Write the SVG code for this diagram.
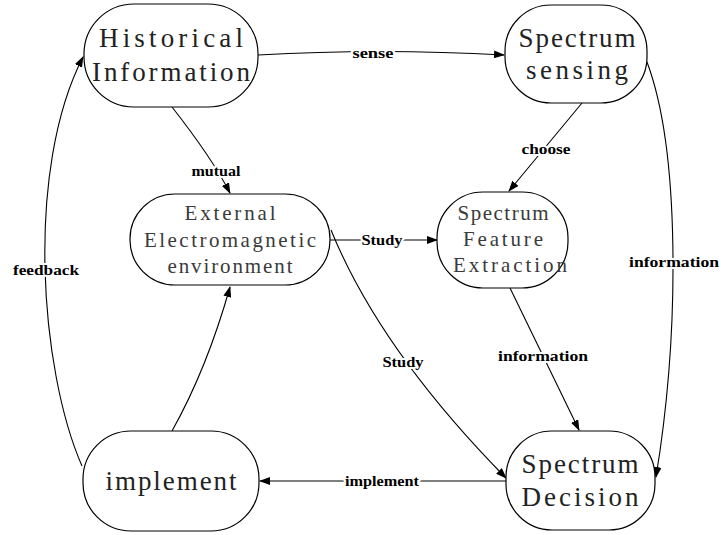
<svg xmlns="http://www.w3.org/2000/svg" width="721" height="535" viewBox="0 0 721 535">
<style>
.node rect{fill:#fff;stroke:#000;stroke-width:1.2}
.big{font-family:"Liberation Serif","DejaVu Serif",serif;font-size:27px;fill:#222;text-anchor:middle}
.mid{font-family:"Liberation Serif","DejaVu Serif",serif;font-size:21px;fill:#3a3a3a;text-anchor:middle}
#edges path{fill:none;stroke:#000;stroke-width:1.1}
.lbl{font-family:"Liberation Serif","DejaVu Serif",serif;font-size:14.5px;font-weight:bold;fill:#000;text-anchor:middle;stroke:#fff;stroke-width:4;paint-order:stroke;stroke-linejoin:round}
</style>
<defs>
<marker id="arr" markerWidth="11" markerHeight="8" refX="10" refY="4" orient="auto" markerUnits="userSpaceOnUse">
<path d="M0,0 L11,4 L0,8 Z" fill="#000"/>
</marker>
</defs>
<rect width="721" height="535" fill="#fff"/>
<g id="edges">
<path d="M258,55 Q380,48 504,55" marker-end="url(#arr)"/>
<path d="M172,107 Q212,158 230,193" marker-end="url(#arr)"/>
<path d="M582,103 L509,191" marker-end="url(#arr)"/>
<path d="M330,240 L437,240" marker-end="url(#arr)"/>
<path d="M331,230 Q380,350 506,478" marker-end="url(#arr)"/>
<path d="M510,288 L579,430" marker-end="url(#arr)"/>
<path d="M647,62 C680,150 680,330 656,477" marker-end="url(#arr)"/>
<path d="M506,481 L260,481" marker-end="url(#arr)"/>
<path d="M82,466 C40,370 25,170 83,57" marker-end="url(#arr)"/>
<path d="M172,431 C195,390 215,340 230,287" marker-end="url(#arr)"/>
<text class="lbl" x="373" y="58" textLength="41" lengthAdjust="spacingAndGlyphs">sense</text>
<text class="lbl" x="216" y="176" textLength="49" lengthAdjust="spacingAndGlyphs">mutual</text>
<text class="lbl" x="546" y="154" textLength="49" lengthAdjust="spacingAndGlyphs">choose</text>
<text class="lbl" x="382" y="245" textLength="41" lengthAdjust="spacingAndGlyphs">Study</text>
<text class="lbl" x="403" y="367" textLength="41" lengthAdjust="spacingAndGlyphs">Study</text>
<text class="lbl" x="543" y="361" textLength="90" lengthAdjust="spacingAndGlyphs">information</text>
<text class="lbl" x="674" y="267" textLength="90" lengthAdjust="spacingAndGlyphs">information</text>
<text class="lbl" x="382" y="486" textLength="74" lengthAdjust="spacingAndGlyphs">implement</text>
<text class="lbl" x="46" y="275" textLength="66" lengthAdjust="spacingAndGlyphs">feedback</text>
</g>
<g id="historical" class="node">
<rect x="84" y="4" width="174" height="103" rx="50" ry="50"/>
<text class="big" x="171" y="47" textLength="144" lengthAdjust="spacing">Historical</text>
<text class="big" x="171" y="81" textLength="158" lengthAdjust="spacing">Information</text>
</g>
<g id="sensing" class="node">
<rect x="505" y="5" width="142" height="98" rx="46" ry="46"/>
<text class="big" x="577" y="47" textLength="117" lengthAdjust="spacing">Spectrum</text>
<text class="big" x="577" y="79" textLength="102" lengthAdjust="spacing">sensing</text>
</g>
<g id="external" class="node">
<rect x="130" y="194" width="200" height="91" rx="45" ry="45"/>
<text class="mid" x="230" y="220" textLength="91" lengthAdjust="spacing">External</text>
<text class="mid" x="230" y="247" textLength="172" lengthAdjust="spacing">Electromagnetic</text>
<text class="mid" x="230" y="273" textLength="125" lengthAdjust="spacing">environment</text>
</g>
<g id="feature" class="node">
<rect x="437" y="192" width="131" height="96" rx="46" ry="46"/>
<text class="mid" x="503" y="220" textLength="91" lengthAdjust="spacing">Spectrum</text>
<text class="mid" x="503" y="246" textLength="80" lengthAdjust="spacing">Feature</text>
<text class="mid" x="510" y="272" textLength="114" lengthAdjust="spacing">Extraction</text>
</g>
<g id="implement" class="node">
<rect x="83" y="431" width="176" height="100" rx="48" ry="48"/>
<text class="big" x="171" y="490" textLength="131" lengthAdjust="spacing">implement</text>
</g>
<g id="decision" class="node">
<rect x="506" y="431" width="149" height="99" rx="46" ry="46"/>
<text class="big" x="580" y="473" textLength="117" lengthAdjust="spacing">Spectrum</text>
<text class="big" x="580" y="506" textLength="117" lengthAdjust="spacing">Decision</text>
</g>
</svg>
